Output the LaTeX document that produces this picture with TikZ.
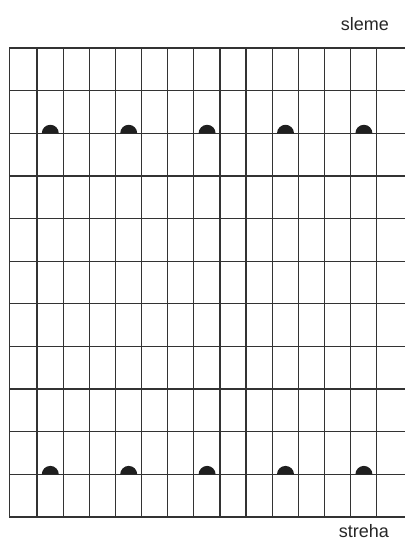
\documentclass[tikz,border=0pt]{standalone}
\usepackage{fontspec}
\setmainfont{Liberation Sans}
\usepackage{tikz}

\begin{document}
\begin{tikzpicture}[x=1pt, y=1pt]
        \colorlet{gridgray}{black!80}
        \colorlet{tilemark}{black!88}
        \tikzset{gridline/.style={draw=gridgray, line width=1.2pt},
                 roofword/.style={text=black!85, font=\fontsize{18}{21}\selectfont, inner sep=0pt}}

        \useasboundingbox (0,0) rectangle (405,548);

        % rows of battens
        \foreach \i in {0,...,11}
            \draw[gridline] (9.3,{500-42.636*\i}) -- (405,{500-42.636*\i});
        % left edge and counter battens
        \draw[gridline] (9.3,31) -- (9.3,500);
        \foreach \j in {0,...,13}
            \draw[gridline] ({37+26.13*\j},31) -- ({37+26.13*\j},500);

        % hooks near ridge and eave
        \foreach \k in {0,...,4} {
            \fill[tilemark] ({50.3+78.4*\k-8.5},414.7) arc[start angle=180, end angle=0, radius=8.5] -- cycle;
            \fill[tilemark] ({50.3+78.4*\k-8.5},73.6) arc[start angle=180, end angle=0, radius=8.5] -- cycle;
        }

        \node[roofword, anchor=base east] (ridge) at (389,517.5) {sleme};
        \node[roofword, anchor=base east] (eave) at (389,10.7) {streha};
    \end{tikzpicture}
\end{document}
